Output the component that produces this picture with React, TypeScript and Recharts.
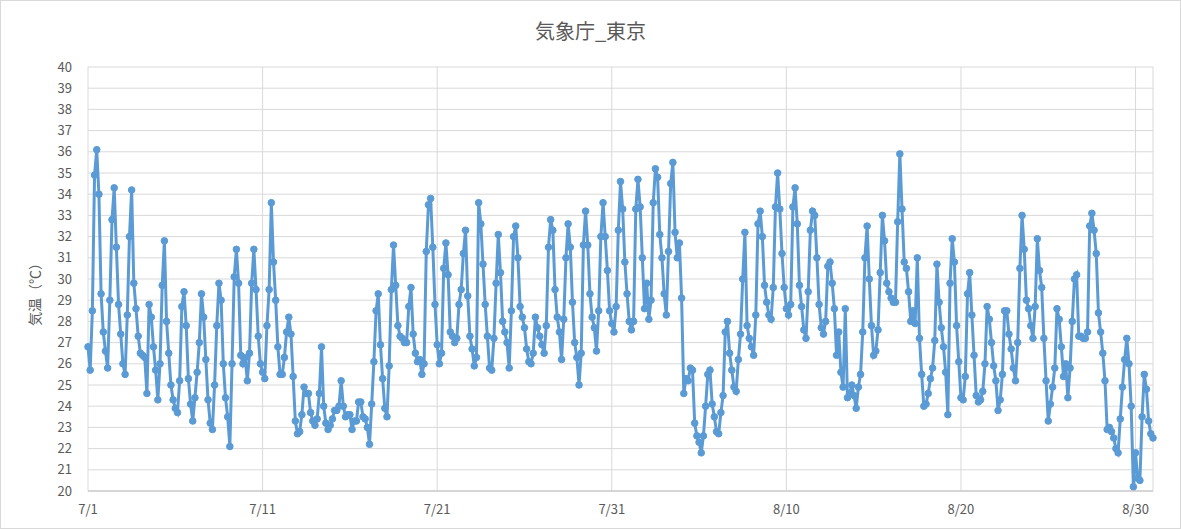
import React from "react";
import { LineChart, Line, XAxis, YAxis, CartesianGrid } from "recharts";

// x axis: one tick every 10 days (240 hours)
const dateLabels = ["7/1", "7/11", "7/21", "7/31", "8/10", "8/20", "8/30"];
const dateTicks = [0, 240, 480, 720, 960, 1200, 1440];
const tempTicks = [20, 21, 22, 23, 24, 25, 26, 27, 28, 29, 30, 31, 32, 33, 34, 35, 36, 37, 38, 39, 40];

// readings taken every 3 hours
const readHours = [0, 3, 6, 9, 12, 15, 18, 21];

// 気温 (℃), one row per day from 7/1 to 8/31
const dailyTemps: number[][] = [
  [26.8, 25.7, 28.5, 34.9, 36.1, 34.0, 29.3, 27.5], // 7/1
  [26.6, 25.8, 29.0, 32.8, 34.3, 31.5, 28.8, 27.4],
  [26.0, 25.5, 28.3, 32.0, 34.2, 29.8, 28.6, 27.3],
  [26.5, 26.4, 26.3, 24.6, 28.8, 28.2, 26.8, 25.7],
  [24.3, 26.0, 29.7, 31.8, 28.0, 26.5, 25.0, 24.3],
  [23.9, 23.7, 25.2, 28.7, 29.4, 27.8, 25.3, 24.1],
  [23.3, 24.4, 25.6, 27.0, 29.3, 28.2, 26.2, 24.3],
  [23.2, 22.9, 25.0, 27.8, 29.8, 29.0, 26.0, 24.4],
  [23.5, 22.1, 26.0, 30.1, 31.4, 29.8, 26.4, 26.0],
  [26.3, 25.2, 26.5, 29.8, 31.4, 29.5, 27.3, 26.0],
  [25.6, 25.3, 27.8, 29.5, 33.6, 30.8, 29.0, 26.8], // 7/11
  [25.5, 25.5, 26.3, 27.5, 28.2, 27.4, 25.4, 23.3],
  [22.7, 22.8, 23.6, 24.9, 24.6, 24.6, 23.7, 23.3],
  [23.1, 23.4, 24.6, 26.8, 24.0, 23.2, 22.9, 23.1],
  [23.4, 23.8, 23.8, 24.0, 25.2, 24.0, 23.5, 23.6],
  [23.6, 22.9, 23.3, 23.3, 24.2, 24.2, 23.5, 23.4],
  [23.0, 22.2, 24.1, 26.1, 28.5, 29.3, 26.9, 25.3],
  [23.9, 23.5, 25.9, 29.5, 31.6, 29.7, 27.8, 27.3],
  [27.2, 27.0, 27.0, 28.7, 29.6, 27.4, 26.5, 26.1],
  [26.2, 25.5, 26.0, 31.3, 33.5, 33.8, 31.5, 28.8],
  [26.9, 26.0, 26.5, 30.5, 31.7, 30.2, 27.5, 27.3], // 7/21
  [27.0, 27.2, 28.8, 29.5, 31.2, 32.3, 29.2, 27.3],
  [26.7, 25.9, 26.3, 33.6, 32.6, 30.7, 28.8, 27.3],
  [25.8, 25.7, 27.2, 29.8, 32.1, 30.3, 28.0, 27.5],
  [27.0, 25.8, 28.5, 32.0, 32.5, 31.0, 28.7, 28.2],
  [27.7, 26.7, 26.1, 26.0, 26.5, 28.2, 27.7, 27.3],
  [26.9, 26.5, 27.8, 31.5, 32.8, 32.3, 29.5, 28.2],
  [27.5, 26.2, 28.1, 31.0, 32.6, 31.5, 28.9, 27.0],
  [26.3, 25.0, 26.5, 31.6, 33.2, 31.6, 29.3, 28.2],
  [27.7, 26.6, 28.5, 32.0, 33.6, 32.0, 30.4, 28.5],
  [27.9, 27.5, 28.7, 32.3, 34.6, 33.3, 30.8, 29.3], // 7/31
  [28.0, 27.6, 28.0, 33.3, 34.7, 33.4, 31.0, 28.6],
  [29.8, 28.1, 29.0, 33.6, 35.2, 34.8, 32.1, 31.0],
  [29.3, 28.3, 31.3, 34.5, 35.5, 32.2, 31.0, 31.7],
  [29.1, 24.6, 25.3, 25.2, 25.8, 25.7, 23.2, 22.6],
  [22.3, 21.8, 22.6, 24.0, 25.5, 25.7, 24.1, 23.5],
  [22.8, 22.7, 23.7, 24.5, 27.5, 28.0, 26.5, 25.7],
  [24.9, 24.7, 26.2, 27.4, 30.0, 32.2, 27.8, 27.2],
  [26.8, 26.4, 28.3, 32.6, 33.2, 32.0, 29.7, 28.9],
  [28.3, 28.1, 29.6, 33.4, 35.0, 33.3, 31.2, 29.6],
  [28.6, 28.3, 28.8, 33.4, 34.3, 32.6, 29.7, 28.7], // 8/10
  [27.6, 27.2, 29.4, 32.3, 33.2, 33.0, 31.0, 28.8],
  [27.7, 27.4, 28.0, 30.6, 30.8, 29.8, 28.6, 26.4],
  [27.5, 25.6, 24.9, 28.6, 24.4, 24.6, 25.0, 24.5],
  [23.9, 24.9, 25.5, 27.5, 31.0, 32.5, 30.0, 27.8],
  [26.4, 26.6, 27.6, 30.3, 33.0, 31.8, 29.8, 29.4],
  [29.1, 28.9, 28.9, 32.7, 35.9, 33.3, 30.8, 30.5],
  [29.4, 28.0, 28.5, 27.9, 31.0, 27.2, 25.5, 24.0],
  [24.1, 24.6, 25.3, 25.8, 27.1, 30.7, 28.9, 27.7],
  [26.8, 25.6, 23.6, 29.8, 31.9, 30.8, 27.8, 26.1],
  [24.4, 24.3, 25.4, 29.3, 30.3, 28.3, 26.4, 24.5], // 8/20
  [24.2, 24.3, 24.7, 26.0, 28.7, 28.1, 27.0, 25.9],
  [25.2, 23.8, 24.3, 25.5, 28.5, 28.5, 27.4, 26.7],
  [25.8, 25.2, 27.0, 30.5, 33.0, 31.4, 29.0, 28.6],
  [27.8, 27.2, 28.7, 31.9, 30.4, 29.6, 27.2, 25.2],
  [23.3, 24.1, 24.9, 25.8, 28.6, 28.1, 26.8, 25.4],
  [26.0, 24.4, 25.8, 28.0, 30.0, 30.2, 27.3, 27.3],
  [27.2, 27.2, 27.5, 32.5, 33.1, 32.3, 31.2, 28.4],
  [27.5, 26.5, 25.2, 22.9, 23.0, 22.8, 22.5, 22.0],
  [21.8, 23.4, 24.9, 26.2, 27.2, 26.0, 24.0, 20.2],
  [21.8, 20.6, 20.5, 23.5, 25.5, 24.8, 23.3, 22.7], // 8/30
];
const lastTemp = 22.5;

const data = dailyTemps
  .flatMap((day, d) => day.map((t, k) => ({ hour: d * 24 + readHours[k], temp: t })))
  .concat([{ hour: dailyTemps.length * 24, temp: lastTemp }]);

const font = "'Noto Sans CJK JP', 'Noto Sans', sans-serif";
const lineColor = "#5B9BD5";

export default function App() {
  return (
    <div
      style={{
        position: "absolute",
        left: 0,
        top: 0,
        width: 1181,
        height: 529,
        background: "#fff",
        boxSizing: "border-box",
        border: "1px solid #d9d9d9",
        fontFamily: font,
      }}
    >
      <div
        style={{
          position: "absolute",
          top: 16,
          left: 0,
          width: "100%",
          textAlign: "center",
          fontSize: 20,
          color: "#595959",
          lineHeight: "28px",
        }}
      >
        気象庁_東京
      </div>
      <div
        style={{
          position: "absolute",
          left: 33,
          top: 290,
          transform: "translate(-50%, -50%) rotate(-90deg)",
          fontSize: 14,
          color: "#595959",
          whiteSpace: "nowrap",
        }}
      >
        気温（℃）
      </div>
      <div style={{ position: "absolute", left: -1, top: -1 }}>
        <LineChart
          width={1181}
          height={529}
          data={data}
          margin={{ top: 67, right: 28, bottom: 8, left: 0 }}
        >
          <CartesianGrid stroke="#d9d9d9" />
          <XAxis
            dataKey="hour"
            type="number"
            domain={[0, 1464]}
            ticks={dateTicks}
            interval={0}
            tickFormatter={(v: number) => dateLabels[dateTicks.indexOf(v)]}
            height={30}
            tickLine={false}
            tickMargin={8}
            axisLine={{ stroke: "#bfbfbf" }}
            tick={{ fill: "#595959", fontSize: 13, fontFamily: font }}
          />
          <YAxis
            domain={[20, 40]}
            ticks={tempTicks}
            interval={0}
            width={88}
            axisLine={false}
            tickLine={false}
            tickMargin={10}
            tick={{ fill: "#595959", fontSize: 13, fontFamily: font }}
          />
          <Line
            type="linear"
            dataKey="temp"
            stroke={lineColor}
            strokeWidth={3}
            dot={{ r: 3.3, fill: lineColor, stroke: lineColor, strokeWidth: 1 }}
            isAnimationActive={false}
          />
        </LineChart>
      </div>
    </div>
  );
}
